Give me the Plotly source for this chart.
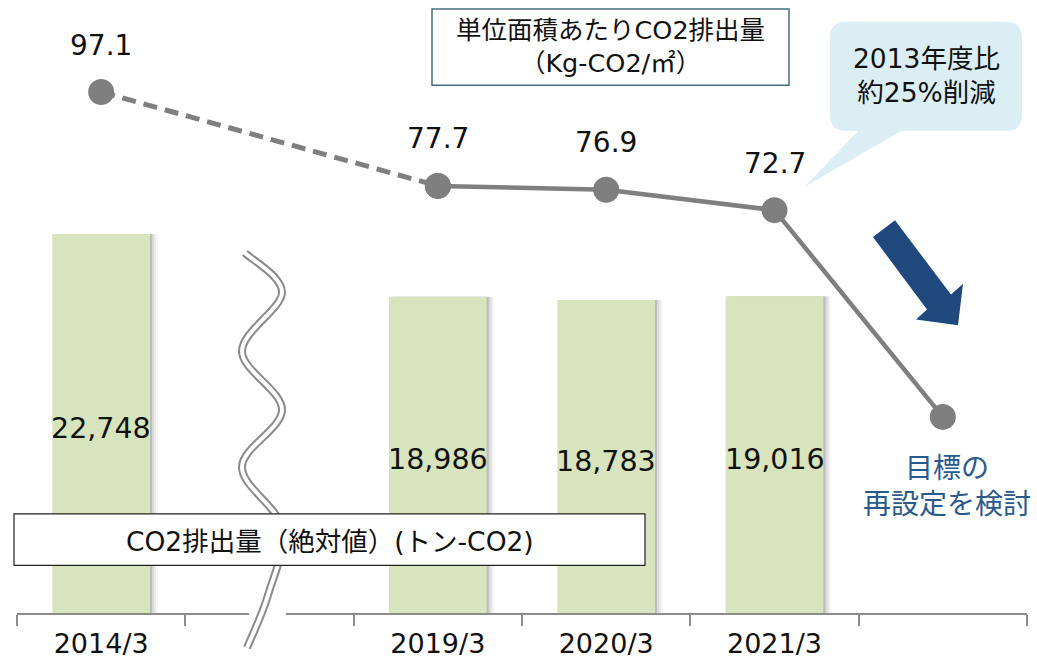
import plotly.graph_objects as go

# ---- data -------------------------------------------------------------
categories = ["2014/3", " ", "2019/3", "2020/3", "2021/3", "  "]
bar_cats = ["2014/3", "2019/3", "2020/3", "2021/3"]
co2_total = [22748, 18986, 18783, 19016]          # トン-CO2
bar_labels = ["22,748", "18,986", "18,783", "19,016"]

past_cats = ["2014/3", "2019/3"]
past_intensity = [97.1, 77.7]                     # Kg-CO2/㎡ (dashed span)
recent_cats = ["2019/3", "2020/3", "2021/3", "  "]
recent_intensity = [77.7, 76.9, 72.7, 30.0]       # last point: target
intensity_labels = ["97.1", "77.7", "76.9", "72.7"]
intensity_label_cats = ["2014/3", "2019/3", "2020/3", "2021/3"]
intensity_label_vals = [97.1, 77.7, 76.9, 72.7]

# ---- geometry helpers (pixel -> paper) -------------------------------
W, H = 1037, 659
ML, MR, MT, MB = 17, 10, 0, 41
PW, PH = W - ML - MR, H - MT - MB
SLOT = PW / len(categories)


def px(x):
    return (x - ML) / PW


def py(y):
    return (H - MB - y) / PH


def smooth_path(pts):
    """Catmull-Rom through pixel points, returned as an SVG path in paper coords."""
    p = [pts[0]] + pts + [pts[-1]]
    d = f"M {px(p[1][0]):.5f},{py(p[1][1]):.5f}"
    for i in range(1, len(p) - 2):
        p0, p1, p2, p3 = p[i - 1], p[i], p[i + 1], p[i + 2]
        c1 = (p1[0] + (p2[0] - p0[0]) / 6, p1[1] + (p2[1] - p0[1]) / 6)
        c2 = (p2[0] - (p3[0] - p1[0]) / 6, p2[1] - (p3[1] - p1[1]) / 6)
        d += (f" C {px(c1[0]):.5f},{py(c1[1]):.5f} {px(c2[0]):.5f},{py(c2[1]):.5f}"
              f" {px(p2[0]):.5f},{py(p2[1]):.5f}")
    return d


def poly_path(pts):
    return "M " + " L ".join(f"{px(x):.5f},{py(y):.5f}" for x, y in pts) + " Z"


FONT = "DejaVu Sans, Verdana, Noto Sans CJK JP, sans-serif"
GREY = "#7f7f7f"
BAR = "#d7e4bd"
NAVY = "#1f497d"

fig = go.Figure()

# soft shadow behind the bars
BAR_W = 0.58
for dx, a in [(2, 0.12), (4, 0.08), (6, 0.05), (8, 0.03)]:
    fig.add_trace(go.Bar(
        x=bar_cats, y=co2_total, width=BAR_W, offset=-BAR_W / 2 + dx / SLOT,
        marker=dict(color=f"rgba(0,0,0,{a})", line=dict(width=0)),
        hoverinfo="skip", showlegend=False))

fig.add_trace(go.Bar(
    x=bar_cats, y=co2_total, width=BAR_W, offset=-BAR_W / 2,
    marker=dict(color=BAR, line=dict(width=0)), showlegend=False))

# intensity line: dashed span, then solid through the target point
fig.add_trace(go.Scatter(
    x=past_cats, y=past_intensity, yaxis="y2", mode="lines+markers",
    line=dict(color=GREY, width=5, dash="14px,8px"),
    marker=dict(size=26, color=GREY), showlegend=False))
fig.add_trace(go.Scatter(
    x=recent_cats, y=recent_intensity, yaxis="y2", mode="lines+markers",
    line=dict(color=GREY, width=4.5),
    marker=dict(size=26, color=GREY), showlegend=False))

annotations = []

# bar value labels, centred in each bar
for c, v, t in zip(bar_cats, co2_total, bar_labels):
    annotations.append(dict(
        x=c, y=v / 2, xref="x", yref="y", text=t, showarrow=False, yshift=-5,
        xanchor="center", yanchor="middle",
        font=dict(family=FONT, size=28.5, color="#111111")))

# intensity value labels above the markers
for c, v, t in zip(intensity_label_cats, intensity_label_vals, intensity_labels):
    annotations.append(dict(
        x=c, y=v, xref="x", yref="y2", text=t, showarrow=False, yshift=47,
        xanchor="center", yanchor="middle",
        font=dict(family=FONT, size=28, color="#111111")))

shapes = []

# break mark across the axis (double wavy line)
shapes.append(dict(type="rect", xref="paper", yref="paper",
                   x0=px(249), x1=px(286), y0=py(626), y1=py(611),
                   fillcolor="white", line=dict(width=0), layer="above"))
wave = [(245, 255), (282, 295), (242, 354), (282, 413), (242, 471),
        (282, 532), (268, 600), (247, 653)]
wpath = smooth_path(wave)
shapes.append(dict(type="path", xref="paper", yref="paper", path=wpath,
                   line=dict(color="#8a8a8a", width=8), layer="above"))
shapes.append(dict(type="path", xref="paper", yref="paper", path=wpath,
                   line=dict(color="white", width=4), layer="above"))

# title box (intensity)
shapes.append(dict(type="rect", xref="paper", yref="paper",
                   x0=px(432), x1=px(789), y0=py(86), y1=py(9),
                   fillcolor="white", line=dict(color="#41707f", width=1.5),
                   layer="above"))
annotations.append(dict(
    x=px(610), y=py(47), xref="paper", yref="paper", showarrow=False,
    xanchor="center", yanchor="middle",
    text="単位面積あたりCO2排出量<br>（Kg-CO2/㎡）",
    font=dict(family=FONT, size=25.5, color="#111111")))

# bottom box (absolute volume)
shapes.append(dict(type="rect", xref="paper", yref="paper",
                   x0=px(14), x1=px(645), y0=py(570), y1=py(518),
                   fillcolor="white", line=dict(color="#222222", width=1.2),
                   layer="above"))
annotations.append(dict(
    x=px(330), y=py(546), xref="paper", yref="paper", showarrow=False,
    xanchor="center", yanchor="middle",
    text="CO2排出量（絶対値）(トン-CO2)",
    font=dict(family=FONT, size=26.5, color="#111111")))

# callout bubble
CALL = "#dbeef3"
shapes.append(dict(type="path", xref="paper", yref="paper",
                   path=poly_path([(862, 128), (908, 128), (805, 188)]),
                   fillcolor=CALL, line=dict(width=0), layer="above"))
r = 16
bx0, bx1, by0, by1 = 830, 1022, 22, 132
bubble = (f"M {px(bx0 + r):.5f},{py(by0):.5f} L {px(bx1 - r):.5f},{py(by0):.5f} "
          f"Q {px(bx1):.5f},{py(by0):.5f} {px(bx1):.5f},{py(by0 + r):.5f} "
          f"L {px(bx1):.5f},{py(by1 - r):.5f} "
          f"Q {px(bx1):.5f},{py(by1):.5f} {px(bx1 - r):.5f},{py(by1):.5f} "
          f"L {px(bx0 + r):.5f},{py(by1):.5f} "
          f"Q {px(bx0):.5f},{py(by1):.5f} {px(bx0):.5f},{py(by1 - r):.5f} "
          f"L {px(bx0):.5f},{py(by0 + r):.5f} "
          f"Q {px(bx0):.5f},{py(by0):.5f} {px(bx0 + r):.5f},{py(by0):.5f} Z")
shapes.append(dict(type="path", xref="paper", yref="paper", path=bubble,
                   fillcolor=CALL, line=dict(width=0), layer="above"))
annotations.append(dict(
    x=px(926), y=py(76), xref="paper", yref="paper", showarrow=False,
    xanchor="center", yanchor="middle",
    text="2013年度比<br>約25%削減",
    font=dict(family=FONT, size=26.5, color="#111111")))

# downward arrow
shapes.append(dict(type="path", xref="paper", yref="paper",
                   path=poly_path([(895, 222), (951, 297), (963, 286), (958, 328),
                                   (916, 322), (927, 312), (873, 239)]),
                   fillcolor=NAVY, line=dict(width=0), layer="above"))

# target note
annotations.append(dict(
    x=px(947), y=py(490), xref="paper", yref="paper", showarrow=False,
    xanchor="center", yanchor="middle",
    text="目標の<br>再設定を検討",
    font=dict(family=FONT, size=28, color="#2a5a8c")))

fig.update_layout(
    width=W, height=H,
    margin=dict(l=ML, r=MR, t=MT, b=MB, pad=0),
    paper_bgcolor="white", plot_bgcolor="white",
    barmode="overlay", showlegend=False,
    xaxis=dict(type="category", categoryorder="array", categoryarray=categories,
               range=[-0.5, len(categories) - 0.5],
               showline=True, linecolor="#8c8c8c", linewidth=2,
               ticks="outside", tickson="boundaries", ticklen=11,
               tickcolor="#8c8c8c", tickwidth=2, showgrid=False,
               ticklabelstandoff=6,
               tickfont=dict(family=FONT, size=27, color="#111111")),
    yaxis=dict(range=[0, 36800], visible=False, showgrid=False, zeroline=False),
    yaxis2=dict(range=[-10.5, 116.1], overlaying="y", visible=False,
                showgrid=False, zeroline=False),
    shapes=shapes, annotations=annotations,
)

fig.write_html("out.html")
